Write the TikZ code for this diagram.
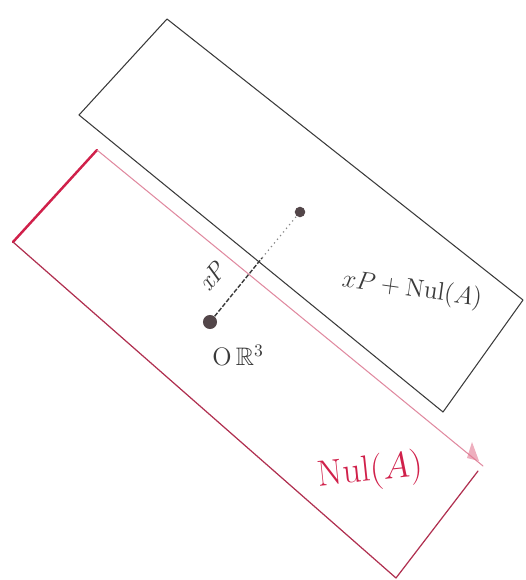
\documentclass[tikz,border=0pt]{standalone}
\usepackage{amssymb}
\begin{document}
\begin{tikzpicture}[x=0.02cm,y=-0.02cm]
\definecolor{inkgrey}{HTML}{3A3A3A}
\definecolor{inkred}{HTML}{D0204A}
\definecolor{inkdred}{HTML}{B03050}
\definecolor{inkpink}{HTML}{E08AA0}
\tikzset{
  blackedge/.style={draw=inkgrey, line width=0.6pt, line join=round},
  redthick/.style={draw=inkred, line width=1.4pt, line cap=round},
  redthin/.style={draw=inkdred, line width=0.7pt, line cap=round},
  pinkthin/.style={draw=inkpink, line width=0.6pt, line cap=round},
  dotpt/.style={circle, fill=inkgrey!85!inkpink, inner sep=0pt, minimum size=8pt},
  handtxt/.style={text=inkgrey, font=\Large, inner sep=1pt},
  redtxt/.style={text=inkred, font=\huge, inner sep=1pt}
}
\useasboundingbox (0,0) rectangle (525,580);
% black rectangle: xP + Nul(A)
\coordinate (bt) at (167,19);
\coordinate (bl) at (79,115);
\coordinate (bb) at (443,412);
\coordinate (br) at (523,300);
\draw[blackedge] (bt) -- (br) -- (bb) -- (bl) -- cycle;
% red rectangle: Nul(A)
\coordinate (rt) at (97,150);
\coordinate (rl) at (13,242);
\coordinate (rr) at (483,466);
\coordinate (rr2) at (478,471);
\coordinate (rb2) at (396,578);
\draw[redthick] (rt) -- (rl);
\draw[redthin] (rl) -- (rb2);
\draw[pinkthin] (rt) -- (rr);
\draw[redthin] (rr2) -- (rb2);
% smudge near right corner
\fill[inkred!60, opacity=0.6] (467,458) -- (472,442) -- (479,461) -- cycle;
% points
\node[dotpt] (o) at (210,322) {};
\node[dotpt, minimum size=6pt] (p) at (300,212) {};
\coordinate (m) at (262,258);
\draw[inkgrey, line width=0.8pt, dash pattern=on 2.5pt off 1pt] (o) -- (m);
\draw[inkgrey!60, line width=0.7pt, dotted] (m) -- (p);
% labels
\node[handtxt, rotate=50] (xpl) at (212,276) {\textit{xP}};
\node[handtxt] (orig) at (238,355) {$\mathrm{O}\,\mathbb{R}^3$};
\node[handtxt, rotate=-8] (coset) at (412,290) {$xP+\mathrm{Nul}(A)$};
\node[redtxt, rotate=6] (nul) at (370,472) {$\mathrm{Nul}(A)$};
\end{tikzpicture}
\end{document}
